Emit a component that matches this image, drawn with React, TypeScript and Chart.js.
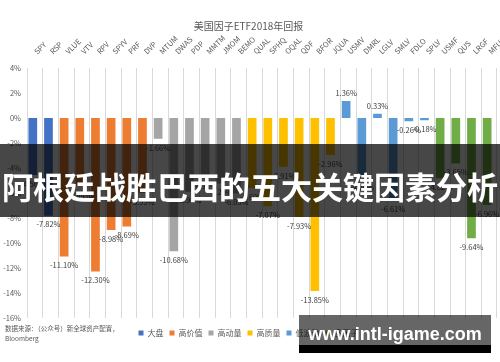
import React, { useEffect, useRef } from 'react';
import { Chart, registerables } from 'chart.js';

Chart.register(...registerables);

const titleText = '美国因子ETF2018年回报';
const categories = [
  'SPY', 'RSP',
  'VLUE', 'VTV', 'RPV', 'SPYV', 'PRF', 'DVP',
  'MTUM', 'DWAS', 'PDP', 'MMTM', 'JMOM', 'BEMO',
  'QUAL', 'SPHQ', 'OQAL', 'QDF', 'BFOR', 'JQUA',
  'USMV', 'DMRL', 'LGLV', 'SMLV', 'FDLO', 'SPLV',
  'USMF', 'QUS', 'LRGF', 'MFUS',
];
const groupNames = ['大盘', '高价值', '高动量', '高质量', '低波动', '多因子'];
const largeCap = [-4.56, -7.82];
const highValue = [-11.1, -5.44, -12.3, -8.98, -8.69, -5.99];
const highMomentum = [-1.66, -10.68, -5.9, -4.71, -5.25, -6.05];
const highQuality = [-5.6, -7.07, -3.91, -7.93, -13.85, -2.96];
const lowVolatility = [1.36, -4.8, 0.33, -6.61, -0.26, -0.18];
const multiFactor = [-4.82, -3.65, -9.64, -6.96];
const yTicks = [4, 2, 0, -2, -4, -6, -8, -10, -12, -14, -16];

const groupValues = [largeCap, highValue, highMomentum, highQuality, lowVolatility, multiFactor];
const groupColors = ['#4472C4', '#ED7D31', '#A5A5A5', '#FFC000', '#5B9BD5', '#70AD47'];

const FONT = '"Noto Sans CJK SC", "Noto Sans", sans-serif';

const valueLabels = {
  id: 'valueLabels',
  afterDatasetsDraw(chart: any) {
    const ctx = chart.ctx;
    ctx.save();
    ctx.font = `7.5px ${FONT}`;
    ctx.fillStyle = '#404040';
    ctx.textAlign = 'center';
    ctx.textBaseline = 'middle';
    chart.data.datasets.forEach((ds: any, di: number) => {
      if (ds.stack !== 'main') return;
      const meta = chart.getDatasetMeta(di);
      meta.data.forEach((el: any, i: number) => {
        const v = ds.data[i];
        if (v === null || v === undefined) return;
        const y = v < 0 ? el.y + 9 : el.y - 8;
        ctx.fillText(v.toFixed(2) + '%', el.x, y);
      });
    });
    ctx.restore();
  },
};

export default function App() {
  const ref = useRef<HTMLCanvasElement>(null);

  useEffect(() => {
    if (!ref.current) return;
    let offset = 0;
    const datasets: any[] = groupValues.map((vals, g) => {
      const data: (number | null)[] = categories.map(() => null);
      vals.forEach((v, i) => {
        data[offset + i] = v;
      });
      offset += vals.length;
      return {
        label: groupNames[g],
        data,
        backgroundColor: groupColors[g],
        stack: 'main',
      };
    });
    // empty companion stack, reproduces Excel's off-centre bar placement
    datasets.push({
      label: '',
      data: categories.map(() => null),
      backgroundColor: 'rgba(0,0,0,0)',
      stack: 'pad',
    });

    const chart = new Chart(ref.current, {
      type: 'bar',
      data: { labels: categories, datasets },
      plugins: [valueLabels],
      options: {
        responsive: false,
        animation: false,
        layout: { padding: { left: 0, right: 3, top: 0, bottom: 15 } },
        datasets: {
          bar: { categoryPercentage: 0.519, barPercentage: 2.14 },
        },
        plugins: {
          tooltip: { enabled: false },
          title: {
            display: true,
            text: titleText,
            color: '#595959',
            font: { family: FONT, size: 10, weight: 'normal' },
            padding: { top: 20, bottom: 0 },
          },
          legend: {
            position: 'bottom',
            title: { display: true, text: ' ', font: { size: 1 }, padding: { top: 4, bottom: 0 } },
            labels: {
              boxWidth: 5,
              boxHeight: 5,
              padding: 6,
              color: '#595959',
              font: { family: FONT, size: 8 },
              filter: (item: any) => item.text !== '',
            },
          },
        },
        scales: {
          x: {
            position: 'top',
            stacked: true,
            grid: { offset: true, color: '#d9d9d9', drawTicks: false },
            border: { display: false },
            ticks: {
              autoSkip: false,
              maxRotation: 45,
              minRotation: 45,
              padding: 12,
              labelOffset: 7,
              color: '#595959',
              font: { family: FONT, size: 7.5 },
            },
            afterFit: (s: any) => {
              s.height = 36;
              s.paddingLeft = 0;
              s.paddingRight = 0;
            },
          },
          y: {
            stacked: true,
            min: -16,
            max: 4,
            afterBuildTicks: (s: any) => {
              s.ticks = yTicks.map((v) => ({ value: v }));
            },
            grid: { display: false, drawTicks: false },
            border: { display: false },
            ticks: {
              padding: 6,
              color: '#595959',
              font: { family: FONT, size: 7.5 },
              callback: (v: any) => v + '%',
            },
            afterFit: (s: any) => {
              s.width = 27;
            },
          },
        },
      },
    });
    return () => chart.destroy();
  }, []);

  return (
    <div
      style={{
        position: 'fixed',
        left: 0,
        top: 0,
        width: 500,
        height: 362,
        background: '#fff',
        overflow: 'hidden',
      }}
    >
      <canvas ref={ref} width={500} height={362} style={{ display: 'block' }} />
      <div
        style={{
          position: 'absolute',
          left: 5,
          top: 323,
          fontFamily: FONT,
          fontSize: 6.5,
          lineHeight: '10px',
          color: '#595959',
          whiteSpace: 'nowrap',
        }}
      >
        数据来源：（公众号）新全球资产配置，
        <br />
        Bloomberg
      </div>
      <div
        style={{
          position: 'absolute',
          left: 0,
          top: 144,
          width: 500,
          height: 73,
          background: 'rgba(0,0,0,0.72)',
        }}
      />
      <div
        style={{
          position: 'absolute',
          left: 0,
          top: 166,
          width: 500,
          height: 40,
          lineHeight: '40px',
          textAlign: 'center',
          color: '#fff',
          fontFamily: FONT,
          fontWeight: 700,
          fontSize: 31,
          whiteSpace: 'nowrap',
        }}
      >
        阿根廷战胜巴西的五大关键因素分析
      </div>
      <div
        style={{
          position: 'absolute',
          left: 299,
          top: 315,
          width: 192,
          height: 30,
          background: 'rgba(0,0,0,0.6)',
        }}
      />
      <div
        style={{
          position: 'absolute',
          left: 299,
          top: 345,
          width: 192,
          height: 8,
          background: '#000',
        }}
      />
      <div
        style={{
          position: 'absolute',
          left: 299,
          top: 315,
          width: 192,
          height: 38,
          lineHeight: '38px',
          textAlign: 'center',
          color: '#fff',
          fontFamily: '"Liberation Sans", Arial, sans-serif',
          fontWeight: 700,
          fontSize: 18,
          whiteSpace: 'nowrap',
        }}
      >
        www.intl-igame.com
      </div>
    </div>
  );
}
